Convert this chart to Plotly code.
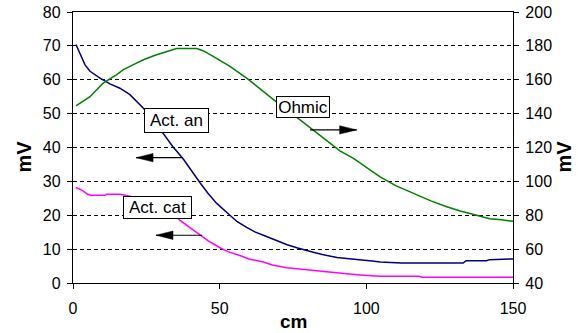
import plotly.graph_objects as go

# Act. an (left axis, mV)
an_x = [1, 2.4, 4.1, 5.8, 9.2, 12.6, 16, 19.4, 21.7, 24, 27, 30.8, 34, 37.6, 40, 43.3, 46, 49,
        53.5, 56, 59.2, 62, 64.9, 68, 70.6, 73, 76.3, 79, 81.9, 85, 87.6, 90, 93.3, 96, 99,
        102, 104.7, 108, 112, 120, 133, 134, 141, 142, 150]
an_y = [70.4, 67.9, 64.4, 62.5, 60.5, 58.8, 57.5, 55.6, 53.6, 51.6, 48.6, 44.2, 40.3, 36.6, 33.6,
        29.6, 26.5, 23.5, 20.0, 18.1, 16.4, 15.1, 14.1, 13.0, 12.1, 11.3, 10.4, 9.7, 9.1, 8.4,
        7.9, 7.5, 7.2, 7.0, 6.9, 6.5, 6.2, 6.1, 5.9, 5.9, 5.9, 6.6, 6.6, 6.9, 7.1]

# Act. cat (left axis, mV)
cat_x = [1, 3, 5, 6, 11, 11.5, 16, 18, 20, 24, 28, 32, 35.3, 36.5, 38.8, 39.9, 42.7, 46, 50.1,
         53, 56.9, 60, 64.9, 68, 72.9, 77, 81.9, 88, 93.3, 99, 104.7, 118, 119, 150]
cat_y = [28.2, 27.4, 26.2, 25.9, 25.9, 26.2, 26.2, 25.9, 25.6, 24.8, 23.2, 21.2, 19.5, 18.5, 17.0,
         16.5, 14.6, 12.5, 10.4, 9.2, 8.1, 7.1, 6.2, 5.3, 4.5, 4.1, 3.7, 3.2, 2.7, 2.3, 2.0,
         2.0, 1.7, 1.7]

# Ohmic (right axis, mV)
ohm_x = [1, 2, 3.5, 5.8, 8, 10.3, 14.9, 17.2, 20.6, 24, 28, 31.9, 35.3, 42.2, 44.5, 47.8, 53.5,
         59.2, 64.9, 70.6, 75, 79.7, 84, 87.6, 91, 95.6, 100, 104.7, 110, 116, 122, 127.4, 132,
         137.6, 142, 146, 150]
ohm_y = [144.6, 145.8, 147.3, 150.0, 154.0, 158.0, 163.0, 166.0, 168.9, 171.8, 174.5, 176.8,
         178.4, 178.4, 177.0, 173.8, 167.9, 161.0, 153.0, 145.2, 139.5, 133.3, 127.5, 122.4,
         118.0, 113.6, 108.5, 102.7, 97.5, 92.9, 88.5, 85.0, 82.5, 80.0, 78.0, 77.3, 76.4]

x_ticks = [0, 50, 100, 150]
y_ticks = [0, 10, 20, 30, 40, 50, 60, 70, 80]
y2_ticks = [40, 60, 80, 100, 120, 140, 160, 180, 200]

FONT = "Arial, Liberation Sans, sans-serif"

fig = go.Figure()
fig.add_trace(go.Scatter(x=an_x, y=an_y, mode="lines", line=dict(color="#000080", width=1.5),
                         name="Act. an"))
fig.add_trace(go.Scatter(x=cat_x, y=cat_y, mode="lines", line=dict(color="#FF00FF", width=1.5),
                         name="Act. cat"))
fig.add_trace(go.Scatter(x=ohm_x, y=ohm_y, mode="lines", line=dict(color="#008000", width=1.5),
                         name="Ohmic", yaxis="y2"))

# labels with boxes: text, x, y, box width, box height
labels = [("Act. an", 35.4, 47.9, 61, 21), ("Act. cat", 28.8, 22.2, 65, 19),
          ("Ohmic", 78.3, 51.9, 50, 18)]
for txt, lx, ly, bw, bh in labels:
    fig.add_annotation(x=lx, y=ly, xref="x", yref="y", text=txt, showarrow=False,
                       font=dict(family=FONT, size=17, color="black"),
                       width=bw, height=bh,
                       bgcolor="white", bordercolor="black", borderwidth=1, borderpad=1)

# arrows: (tail_x, tip_x, y, direction)
arrows = [(37.4, 21.5, 37.0, -1), (44.0, 28.3, 14.1, -1), (80.8, 96.7, 45.2, 1)]
for tail, tip, ay, d in arrows:
    fig.add_shape(type="line", x0=tail, x1=tip, y0=ay, y1=ay, xref="x", yref="y",
                  line=dict(color="black", width=1.2))
    L, W = 17, 4.2
    if d < 0:
        path = f"M0,0 L{L},{W} L{L},{-W} Z"
    else:
        path = f"M0,0 L{-L},{W} L{-L},{-W} Z"
    fig.add_shape(type="path", path=path, xref="x", yref="y", xsizemode="pixel",
                  ysizemode="pixel", xanchor=tip, yanchor=ay, fillcolor="black",
                  line=dict(color="black", width=0.5))

# axis titles as text
fig.add_annotation(x=0.5, y=0, xref="paper", yref="paper", yshift=-38, yanchor="middle",
                   text="<b>cm</b>", showarrow=False,
                   font=dict(family=FONT, size=19, color="black"))
for px, sh in [(0, -50), (1, 50)]:
    fig.add_annotation(x=px, y=0.5, xref="paper", yref="paper", xshift=sh, yshift=-9,
                       xanchor="center", yanchor="middle", textangle=-90,
                       text="<b>mV</b>", showarrow=False,
                       font=dict(family=FONT, size=20, color="black"))

axis_common = dict(showline=True, linecolor="black", linewidth=1.3, ticks="outside",
                   ticklen=5, tickcolor="black", tickwidth=1.3, zeroline=False,
                   automargin=False,
                   tickfont=dict(family=FONT, size=16, color="black"))

fig.update_layout(
    width=578, height=333,
    margin=dict(l=73, r=65, t=12, b=50),
    paper_bgcolor="white", plot_bgcolor="white",
    showlegend=False,
    xaxis=dict(range=[0, 150], tickvals=x_ticks, showgrid=False, mirror=True,
               ticklabelstandoff=6, **axis_common),
    yaxis=dict(range=[0, 80], tickvals=y_ticks, showgrid=True, gridcolor="black", gridwidth=1,
               griddash="4px,3px", ticklabelstandoff=3, **axis_common),
    yaxis2=dict(range=[40, 200], tickvals=y2_ticks, overlaying="y", side="right",
                showgrid=False, ticklabelstandoff=3, **axis_common),
)

fig.write_html("out.html")
